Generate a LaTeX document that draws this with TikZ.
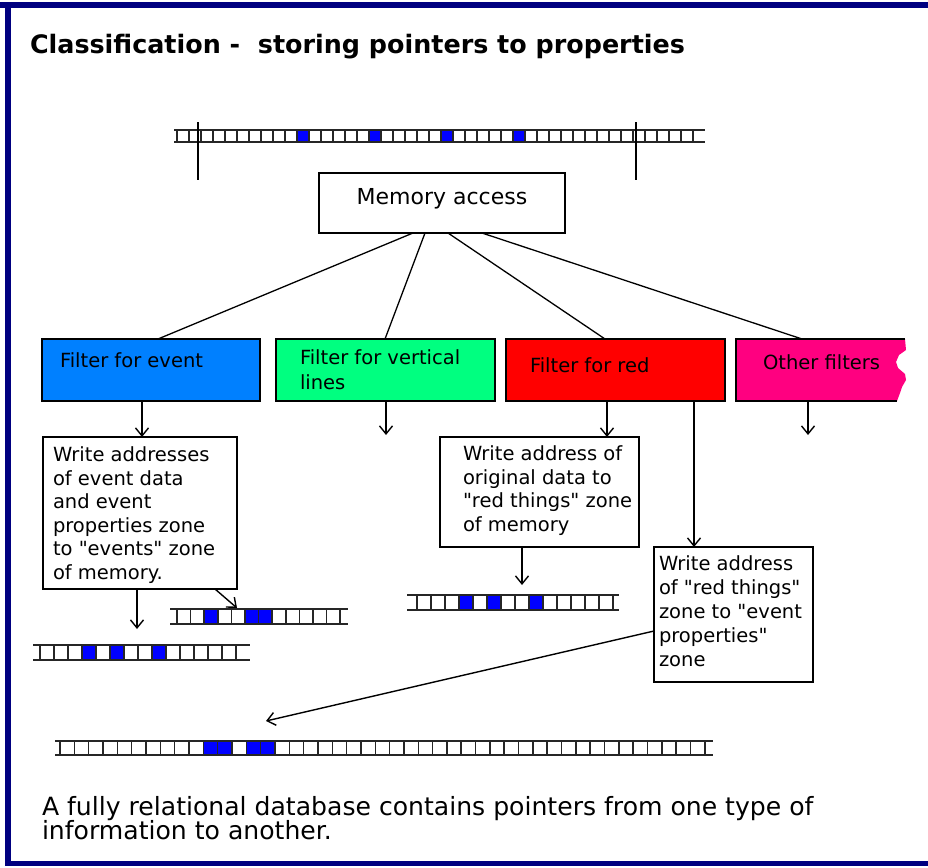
\documentclass[tikz,border=0pt]{standalone}
\usepackage{fontspec}
\setmainfont{DejaVu Sans}[Ligatures=TeXOff]
\usetikzlibrary{arrows.meta,calc}
\definecolor{navy}{RGB}{0,0,128}
\definecolor{evblue}{RGB}{0,128,255}
\definecolor{vgreen}{RGB}{0,255,128}
\definecolor{fred}{RGB}{255,0,0}
\definecolor{fpink}{RGB}{255,0,128}
\definecolor{memblue}{RGB}{0,0,255}
% #1 x0, #2 ytop, #3 cell width, #4 cells, #5 height, #6 left ext, #7 right ext, #8 blue cells
\newcommand\memstrip[8]{%
  \foreach \b in {#8}{\fill[memblue] ({#1+\b*#3},#2) rectangle ({#1+(\b+1)*#3},{#2+#5});}
  \foreach \i in {0,...,#4}{\draw[div] ({#1+\i*#3},#2) -- ({#1+\i*#3},{#2+#5});}
  \draw[rail] ({#1-#6},#2) -- ({#1+#4*#3+#7},#2);
  \draw[rail] ({#1-#6},{#2+#5}) -- ({#1+#4*#3+#7},{#2+#5});
}
\begin{document}
\begin{tikzpicture}[x=1pt,y=-1pt,
  box/.style={draw=black,line width=1.6pt,anchor=north west,inner sep=0pt,outer sep=0pt},
  lbl/.style={inner sep=0pt,outer sep=0pt,font=\fontsize{19.5}{23.5}\selectfont,align=left},
  link/.style={line width=1.3pt},
  arr/.style={line width=1.4pt,-{Straight Barb[length=8pt,width=13pt]}},
  rail/.style={line width=2pt,black!85},
  div/.style={line width=1.5pt,black!85}]
\useasboundingbox (0,0) rectangle (928,867);
\fill[white] (0,0) rectangle (928,867);
\fill[navy] (0,2) rectangle (928,8);
\fill[navy] (5,2) rectangle (11,866);
\fill[navy] (5,861) rectangle (928,866);

\node[lbl,anchor=base west,font=\fontsize{25.4}{28}\selectfont\bfseries] (title) at (30,54) {Classification -\ \ storing pointers to properties};

% top memory strip
\memstrip{177}{130}{12}{43}{12}{3}{12}{10,16,22,28}
\draw[line width=1.6pt] (198,122) -- (198,180);
\draw[line width=1.6pt] (636,122) -- (636,180);

\node[box,minimum width=246pt,minimum height=60pt] (mem) at (319,173) {};
\node[lbl,font=\fontsize{22}{26}\selectfont] (memt) at (442,199) {Memory access};

% filters
\node[box,fill=evblue,minimum width=218pt,minimum height=62pt] (fe) at (42,339) {};
\node[lbl,anchor=base west] (fet) at (60,367) {Filter for event};
\node[box,fill=vgreen,minimum width=219pt,minimum height=62pt] (fv) at (276,339) {};
\node[lbl,anchor=north west,font=\fontsize{19.5}{25}\selectfont] (fvt) at (300,350) {Filter for vertical\\lines};
\node[box,fill=fred,minimum width=219pt,minimum height=62pt] (fr) at (506,339) {};
\node[lbl,anchor=base west] (frt) at (530,372) {Filter for red};
\node[anchor=north west,inner sep=0pt,outer sep=0pt,minimum width=170pt,minimum height=62pt] (fo) at (736,339) {};
\fill[fpink] (736,339) -- (905,339) -- (906,350) -- (899,355) -- (896,362) -- (898,368) -- (905,374) -- (906,380) -- (902,387) -- (900,393) -- (897,401) -- (736,401) -- cycle;
\draw[line width=1.6pt] (905,339) -- (736,339) -- (736,401) -- (897,401);
\node[lbl,anchor=base west] (fot) at (763,369) {Other filters};

% links from memory access
\draw[link] ([xshift=94pt]mem.south west) -- ([xshift=116pt]fe.north west);
\draw[link] ([xshift=106pt]mem.south west) -- ([xshift=109pt]fv.north west);
\draw[link] ([xshift=129pt]mem.south west) -- ([xshift=99pt]fr.north west);
\draw[link] ([xshift=163pt]mem.south west) -- ([xshift=66pt]fo.north west);

% write boxes
\node[box,minimum width=194pt,minimum height=152pt] (w1) at (43,437) {};
\node[lbl,anchor=north west] (w1t) at (53,447) {Write addresses\\of event data\\and event\\properties zone\\to "events" zone\\of memory.};
\node[box,minimum width=199pt,minimum height=110pt] (w2) at (440,437) {};
\node[lbl,anchor=north west] (w2t) at (463,446) {Write address of\\original data to\\"red things" zone\\of memory};
\node[box,minimum width=159pt,minimum height=135pt] (w3) at (654,547) {};
\node[lbl,anchor=north west,font=\fontsize{19.5}{24}\selectfont] (w3t) at (659,556) {Write address\\of "red things"\\zone to "event\\properties"\\zone};

% strips
\memstrip{40}{645}{14}{14}{15}{7}{14}{3,5,8}
\memstrip{177}{609}{13.6}{12}{15}{7}{8}{2,5,6}
\memstrip{417}{595}{14}{14}{15}{10}{6}{3,5,8}
\memstrip{60}{741}{14.33}{45}{14}{5}{8}{10,11,13,14}

% free arrow ends
\coordinate (fvend) at (386,435);
\coordinate (foend) at (808,435);
\coordinate (aend) at (137,629);
\coordinate (bend) at (237,608);
\coordinate (cend) at (522,585);
\coordinate (dend) at (266,721);

\draw[arr] ([xshift=100pt]fe.south west) -- ([xshift=99pt]w1.north west);
\draw[arr] ([xshift=110pt]fv.south west) -- (fvend);
\draw[arr] ([xshift=101pt]fr.south west) -- ([xshift=167pt]w2.north west);
\draw[arr] ([xshift=188pt]fr.south west) -- ([xshift=40pt]w3.north west);
\draw[arr] ([xshift=72pt]fo.south west) -- (foend);
\draw[arr] ([xshift=94pt]w1.south west) -- (aend);
\draw[arr] ([xshift=172pt]w1.south west) -- (bend);
\draw[arr] ([xshift=82pt]w2.south west) -- (cend);
\draw[arr] ([yshift=-16.5pt]w3.west) -- (dend);

\node[lbl,anchor=north west,font=\fontsize{25.1}{24.5}\selectfont] (foot) at (42,796) {A fully relational database contains pointers from one type of\\information to another.};
\end{tikzpicture}
\end{document}
